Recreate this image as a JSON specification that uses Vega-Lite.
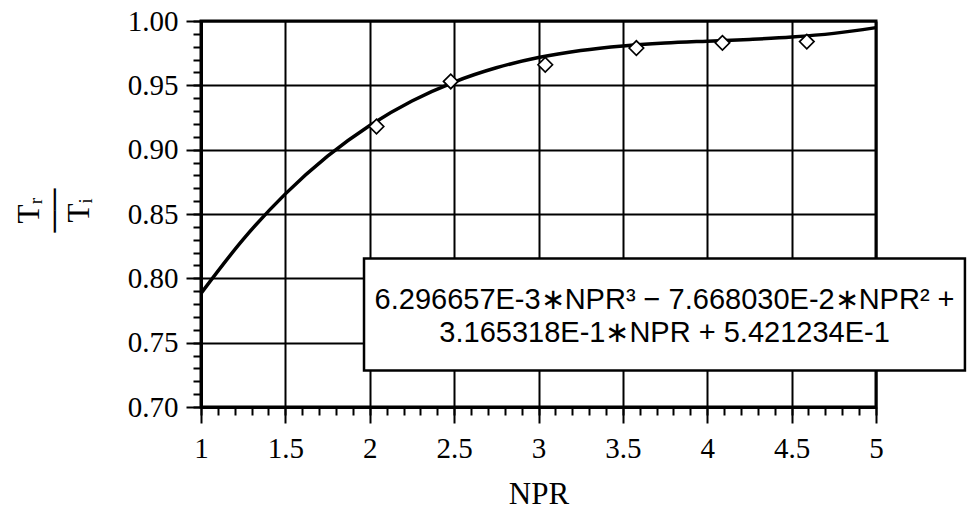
{
  "$schema": "https://vega.github.io/schema/vega-lite/v6.json",
  "width": 675,
  "height": 386,
  "autosize": {"type": "none"},
  "padding": {"left": 201, "top": 21, "right": 92, "bottom": 103},
  "background": "white",
  "config": {
    "view": {"stroke": "black", "strokeWidth": 3},
    "axis": {
      "domainColor": "black",
      "domainWidth": 3,
      "tickColor": "black",
      "tickWidth": 2,
      "gridColor": "black",
      "gridWidth": 2,
      "labelColor": "black",
      "labelFont": "Liberation Serif",
      "labelFontSize": 29,
      "labelOverlap": false,
      "labelFlush": false,
      "titleColor": "black",
      "titleFont": "Liberation Serif",
      "titleFontSize": 31,
      "titleFontWeight": "normal"
    }
  },
  "resolve": {"axis": {"x": "independent", "y": "independent"}},
  "datasets": {
    "fit": [
      {"npr": 1.0, "ratio": 0.788272},
      {"npr": 1.25, "ratio": 0.830273},
      {"npr": 1.5, "ratio": 0.865641},
      {"npr": 1.75, "ratio": 0.894966},
      {"npr": 2.0, "ratio": 0.918839},
      {"npr": 2.25, "ratio": 0.937849},
      {"npr": 2.5, "ratio": 0.952586},
      {"npr": 2.75, "ratio": 0.963641},
      {"npr": 3.0, "ratio": 0.971605},
      {"npr": 3.25, "ratio": 0.977068},
      {"npr": 3.5, "ratio": 0.980619},
      {"npr": 3.75, "ratio": 0.98285},
      {"npr": 4.0, "ratio": 0.984351},
      {"npr": 4.25, "ratio": 0.985712},
      {"npr": 4.5, "ratio": 0.987523},
      {"npr": 4.75, "ratio": 0.990374},
      {"npr": 5.0, "ratio": 0.994856}
    ],
    "obs": [
      {"npr": 2.04, "ratio": 0.918},
      {"npr": 2.48, "ratio": 0.953},
      {"npr": 3.04, "ratio": 0.966},
      {"npr": 3.58, "ratio": 0.979},
      {"npr": 4.09, "ratio": 0.983},
      {"npr": 4.59, "ratio": 0.984}
    ]
  },
  "layer": [
    {
      "data": {"name": "fit"},
      "mark": {"type": "line", "color": "black", "strokeWidth": 3.5, "interpolate": "monotone"},
      "encoding": {
        "x": {
          "field": "npr",
          "type": "quantitative",
          "scale": {"domain": [1, 5], "nice": false, "zero": false},
          "axis": {
            "orient": "bottom",
            "values": [1, 1.5, 2, 2.5, 3, 3.5, 4, 4.5, 5],
            "format": "~g",
            "tickSize": 16,
            "grid": true,
            "labelPadding": 11,
            "title": "NPR",
            "titleY": 96,
            "titleBaseline": "alphabetic"
          }
        },
        "y": {
          "field": "ratio",
          "type": "quantitative",
          "scale": {"domain": [0.7, 1.0], "nice": false, "zero": false},
          "axis": {
            "orient": "left",
            "values": [0.7, 0.75, 0.8, 0.85, 0.9, 0.95, 1.0],
            "format": ".2f",
            "tickSize": 15,
            "grid": true,
            "labelPadding": 8,
            "title": ["Tᵣ", "──", "Tᵢ"],
            "titleLineHeight": 25,
            "titleAngle": 270,
            "titleAlign": "center",
            "titleBaseline": "middle",
            "titleX": -172,
            "titleY": 189
          }
        }
      }
    },
    {
      "data": {"name": "obs"},
      "mark": {"type": "point", "shape": "diamond", "filled": true, "fill": "white", "stroke": "black", "strokeWidth": 1.7, "size": 210, "opacity": 1},
      "encoding": {
        "x": {
          "field": "npr",
          "type": "quantitative",
          "axis": {
            "orient": "bottom",
            "values": [1, 1.1, 1.2, 1.3, 1.4, 1.5, 1.6, 1.7, 1.8, 1.9, 2, 2.1, 2.2, 2.3, 2.4, 2.5, 2.6, 2.7, 2.8, 2.9, 3, 3.1, 3.2, 3.3, 3.4, 3.5, 3.6, 3.7, 3.8, 3.9, 4, 4.1, 4.2, 4.3, 4.4, 4.5, 4.6, 4.7, 4.8, 4.9, 5],
            "tickSize": 8,
            "labels": false,
            "domain": false,
            "grid": false,
            "title": null
          }
        },
        "y": {
          "field": "ratio",
          "type": "quantitative",
          "axis": {
            "orient": "left",
            "values": [0.7, 0.71, 0.72, 0.73, 0.74, 0.75, 0.76, 0.77, 0.78, 0.79, 0.8, 0.81, 0.82, 0.83, 0.84, 0.85, 0.86, 0.87, 0.88, 0.89, 0.9, 0.91, 0.92, 0.93, 0.94, 0.95, 0.96, 0.97, 0.98, 0.99, 1.0],
            "tickSize": 8,
            "labels": false,
            "domain": false,
            "grid": false,
            "title": null
          }
        }
      }
    },
    {
      "data": {"values": [{}]},
      "mark": {"type": "rect", "fill": "white", "stroke": "black", "strokeWidth": 2.5},
      "encoding": {
        "x": {"datum": 1.966, "type": "quantitative", "axis": null},
        "x2": {"datum": 5.527},
        "y": {"datum": 0.7284, "type": "quantitative", "axis": null},
        "y2": {"datum": 0.8154}
      }
    },
    {
      "data": {"values": [{}]},
      "mark": {
        "type": "text",
        "font": "Liberation Sans",
        "fontSize": 29,
        "lineHeight": 33,
        "align": "center",
        "baseline": "middle",
        "color": "black",
        "text": ["6.296657E-3∗NPR³ − 7.668030E-2∗NPR² +", "3.165318E-1∗NPR + 5.421234E-1"]
      },
      "encoding": {
        "x": {"datum": 3.747, "type": "quantitative", "axis": null},
        "y": {"datum": 0.7831, "type": "quantitative", "axis": null}
      }
    }
  ]
}
